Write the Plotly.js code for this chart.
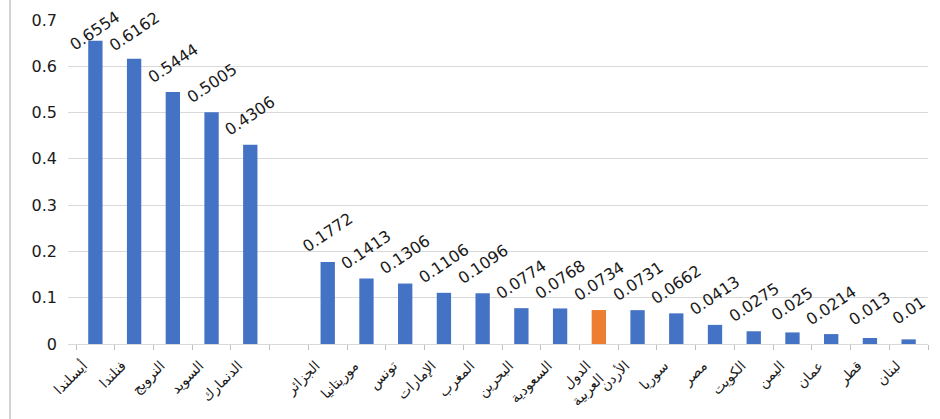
<!DOCTYPE html>
<html>
<head>
<meta charset="utf-8">
<script src="https://cdn.plot.ly/plotly-3.0.1.min.js"></script>
<style>
  html, body { margin: 0; padding: 0; background: #ffffff; }
  #chart { width: 940px; height: 419px; }
</style>
</head>
<body>
<div id="chart"></div>
<script>
// Countries (Arabic), with a blank slot separating the Nordic group from the Arab countries
const categories = [
  "أيسلندا", "فنلندا", "النرويج", "السويد", "الدنمارك", " ",
  "الجزائر", "موريتانيا", "تونس", "الإمارات", "المغرب", "البحرين",
  "السعودية", "الدول<br>العربية", "الأردن", "سوريا", "مصر", "الكويت",
  "اليمن", "عمان", "قطر", "لبنان"
];

const values = [
  0.6554, 0.6162, 0.5444, 0.5005, 0.4306, null,
  0.1772, 0.1413, 0.1306, 0.1106, 0.1096, 0.0774,
  0.0768, 0.0734, 0.0731, 0.0662, 0.0413, 0.0275,
  0.025, 0.0214, 0.013, 0.01
];

const labels = [
  "0.6554", "0.6162", "0.5444", "0.5005", "0.4306", "",
  "0.1772", "0.1413", "0.1306", "0.1106", "0.1096", "0.0774",
  "0.0768", "0.0734", "0.0731", "0.0662", "0.0413", "0.0275",
  "0.025", "0.0214", "0.013", "0.01"
];

const yTicks = [0, 0.1, 0.2, 0.3, 0.4, 0.5, 0.6, 0.7];
const yTickText = ["0", "0.1", "0.2", "0.3", "0.4", "0.5", "0.6", "0.7"];

const BLUE = "#4472C4";
const ORANGE = "#ED7D31";
const highlight = "الدول<br>العربية";
const colors = categories.map(c => (c === highlight ? ORANGE : BLUE));

// Plot geometry (pixels)
const W = 940, H = 419;
const M = { l: 68, r: 12, t: 20, b: 75 };
const plotH = H - M.t - M.b;
const Y_MAX = 0.7;

const trace = {
  type: "bar",
  x: categories,
  y: values,
  marker: { color: colors, line: { width: 0 } },
  width: 0.37,
  hoverinfo: "x+y"
};

// Value labels: rotated, sitting above each bar; kept inside the figure at the top
const valueLabels = [];
categories.forEach((c, i) => {
  const v = values[i];
  if (v === null) return;
  const barTop = M.t + plotH * (1 - v / Y_MAX);
  const centre = Math.max(barTop - 29, 31);
  valueLabels.push({
    x: c,
    y: v,
    xref: "x",
    yref: "y",
    text: labels[i],
    showarrow: false,
    textangle: -34,
    xanchor: "center",
    yanchor: "middle",
    yshift: barTop - centre,
    font: { family: "DejaVu Sans, Verdana, sans-serif", size: 16, color: "#1a1a1a" }
  });
});

const layout = {
  width: W,
  height: H,
  margin: M,
  paper_bgcolor: "#ffffff",
  plot_bgcolor: "#ffffff",
  showlegend: false,
  xaxis: {
    type: "category",
    range: [-0.707, 21.5],
    tickangle: -45,
    tickson: "boundaries",
    ticks: "outside",
    ticklen: 5,
    tickcolor: "#bfbfbf",
    showline: true,
    linecolor: "#d9d9d9",
    linewidth: 1,
    showgrid: false,
    ticklabelshift: -12,
    ticklabelstandoff: 7,
    tickfont: { family: "DejaVu Sans, sans-serif", size: 14, color: "#1a1a1a" },
    fixedrange: true
  },
  yaxis: {
    range: [0, Y_MAX],
    tickvals: yTicks,
    ticktext: yTickText,
    showgrid: true,
    gridcolor: "#d9d9d9",
    gridwidth: 1,
    zeroline: false,
    showline: false,
    ticks: "",
    ticklabelstandoff: 10,
    tickfont: { family: "DejaVu Sans, Verdana, sans-serif", size: 16, color: "#1a1a1a" },
    fixedrange: true
  },
  annotations: valueLabels,
  shapes: [
    {
      type: "line",
      xref: "paper", yref: "paper",
      x0: -58 / 860, x1: -58 / 860,
      y0: -M.b / plotH, y1: (plotH + M.t) / plotH,
      line: { color: "#a6a6a6", width: 1 }
    }
  ]
};

Plotly.newPlot("chart", [trace], layout, { displayModeBar: false, responsive: false });
</script>
</body>
</html>
